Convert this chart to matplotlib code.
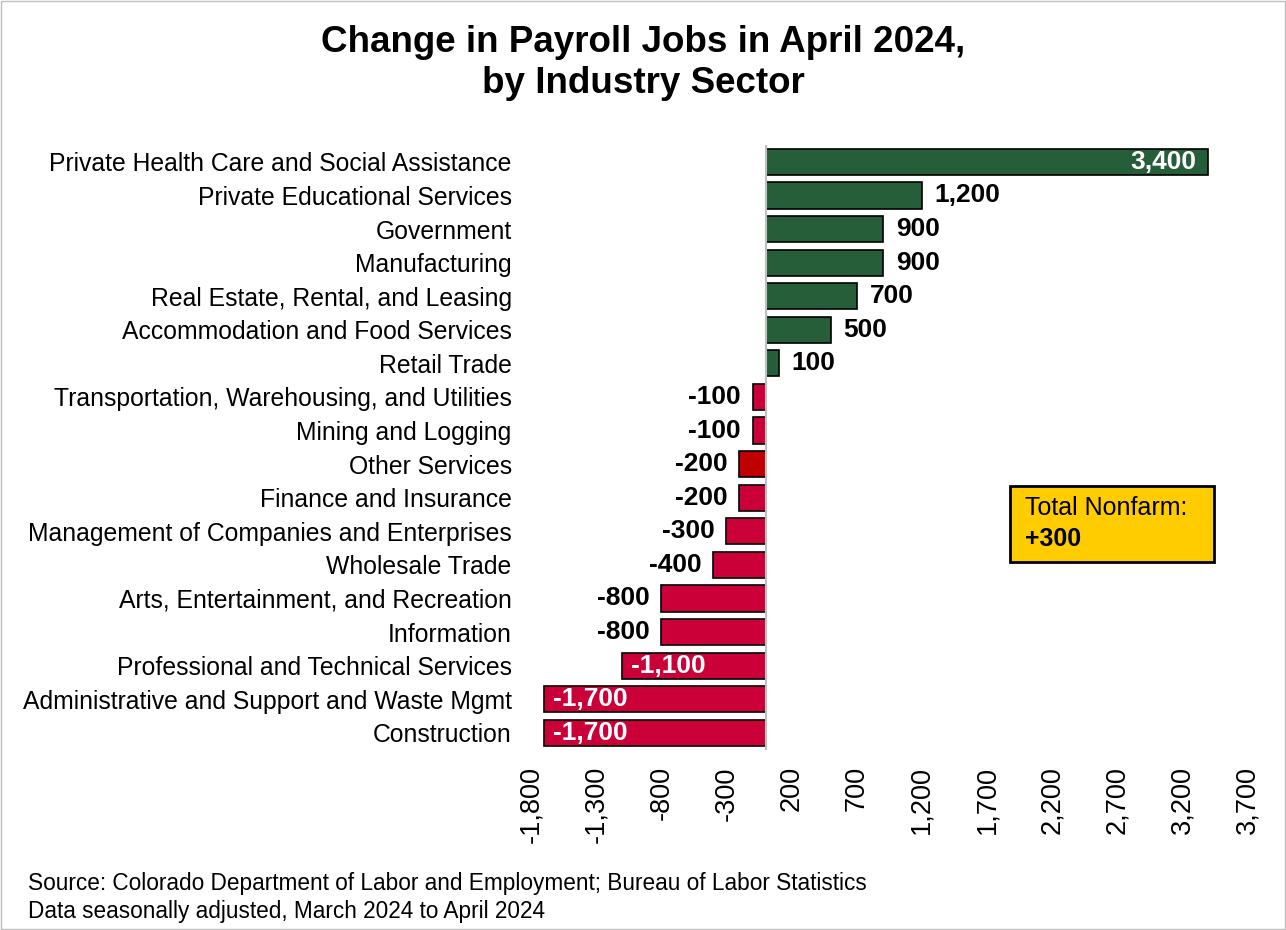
import matplotlib.pyplot as plt
from matplotlib.patches import Rectangle

# data, top to bottom
sectors = ['Private Health Care and Social Assistance', 'Private Educational Services',
           'Government', 'Manufacturing', 'Real Estate, Rental, and Leasing',
           'Accommodation and Food Services', 'Retail Trade',
           'Transportation, Warehousing, and Utilities', 'Mining and Logging',
           'Other Services', 'Finance and Insurance',
           'Management of Companies and Enterprises', 'Wholesale Trade',
           'Arts, Entertainment, and Recreation', 'Information',
           'Professional and Technical Services',
           'Administrative and Support and Waste Mgmt', 'Construction']
change = [3400, 1200, 900, 900, 700, 500, 100, -100, -100, -200, -200, -300,
          -400, -800, -800, -1100, -1700, -1700]
xticks = list(range(-1800, 3701, 500))
total_nonfarm = 300

plt.rcParams['font.family'] = ['Liberation Sans', 'DejaVu Sans']

green = '#265E3A'
red = '#CC0038'
other_red = '#C00000'

fig = plt.figure(figsize=(12.86, 9.30), dpi=100)
ax = fig.add_axes([0.413, 0.194, 0.557, 0.65])

ypos = list(range(len(sectors)))[::-1]
colors = []
for s, v in zip(sectors, change):
    if s == 'Other Services':
        colors.append(other_red)
    elif v > 0:
        colors.append(green)
    else:
        colors.append(red)

ax.barh(ypos, change, height=0.78, color=colors, edgecolor='black', linewidth=1.2, zorder=2)
ax.axvline(0, color='#BFBFBF', lw=1.5, zorder=3)

for y, v in zip(ypos, change):
    txt = f'{abs(v):,}'
    if v < 0:
        txt = '-' + txt
    if v >= 3000:
        ax.text(v - 90, y, txt, ha='right', va='center', color='white',
                fontsize=19, fontweight='bold', zorder=4)
    elif v > 0:
        ax.text(v + 100, y, txt, ha='left', va='center', color='black',
                fontsize=19, fontweight='bold', zorder=4)
    elif v <= -1000:
        ax.text(v + 70, y, txt, ha='left', va='center', color='white',
                fontsize=19, fontweight='bold', zorder=4)
    else:
        ax.text(v - 90, y, txt, ha='right', va='center', color='black',
                fontsize=19, fontweight='bold', zorder=4)

ax.set_xlim(-1800, 3700)
ax.set_ylim(-0.5, len(sectors) - 0.5)
ax.set_yticks(ypos)
ax.set_yticklabels(sectors, fontsize=17.8)
ax.set_xticks(xticks)
ax.set_xticklabels([f'{t:,}' for t in xticks], rotation=90, fontsize=19.5)
ax.tick_params(axis='y', length=0, pad=14)
ax.tick_params(axis='x', length=0, pad=12)
for sp in ax.spines.values():
    sp.set_visible(False)

# total nonfarm box
ax.text(0.69, 0.40, 'Total Nonfarm:', transform=ax.transAxes, fontsize=18,
        ha='left', va='center', zorder=6)
ax.text(0.69, 0.348, f'+{total_nonfarm:,}', transform=ax.transAxes, fontsize=18,
        fontweight='bold', ha='left', va='center', zorder=6)
ax.add_patch(Rectangle((0.669, 0.311), 0.284, 0.125, transform=ax.transAxes,
                       facecolor='#FFCC00', edgecolor='black', lw=2, zorder=5,
                       clip_on=False))

fig.text(0.5, 0.973, 'Change in Payroll Jobs in April 2024,\nby Industry Sector',
         ha='center', va='top', fontsize=26.5, fontweight='bold', linespacing=1.2)
fig.text(0.022, 0.035, 'Source: Colorado Department of Labor and Employment; Bureau of Labor Statistics\n'
         'Data seasonally adjusted, March 2024 to April 2024',
         ha='left', va='center', fontsize=16.3, linespacing=1.25)

fig.patches.append(Rectangle((0.001, 0.001), 0.998, 0.998, transform=fig.transFigure,
                             fill=False, edgecolor='#BFBFBF', lw=1))

fig.savefig('out.png', dpi=100)
plt.close(fig)
